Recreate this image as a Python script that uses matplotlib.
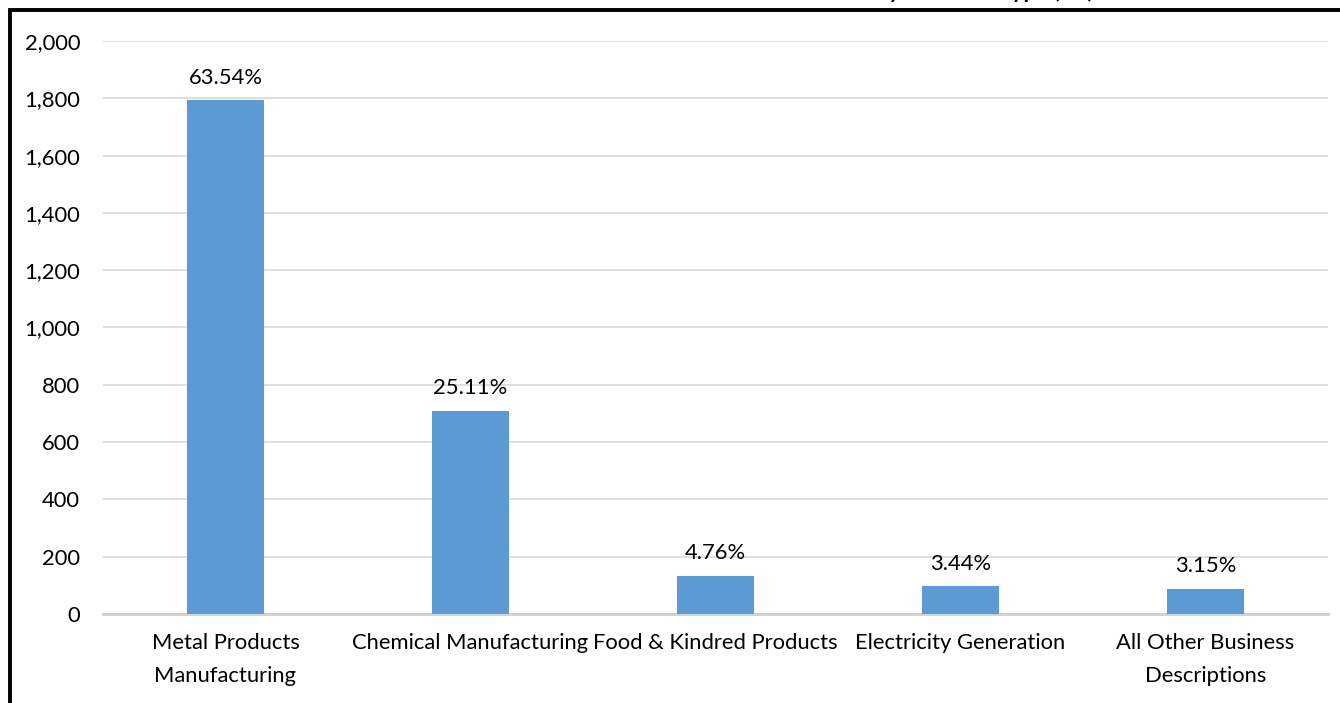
import matplotlib
matplotlib.use('Agg')
import matplotlib.pyplot as plt
from matplotlib.patches import Rectangle
from matplotlib.ticker import FuncFormatter

categories = ['Metal Products\nManufacturing', 'Chemical Manufacturing', 'Food & Kindred Products',
              'Electricity Generation', 'All Other Business\nDescriptions']
values = [1793, 709, 134, 97, 89]
pct_labels = ['63.54%', '25.11%', '4.76%', '3.44%', '3.15%']
title = 'Total Releases of TRI Chemicals by Business Type (lbs)'

plt.rcParams['font.family'] = ['Lato', 'DejaVu Sans']

W, H = 1340, 703
fig = plt.figure(figsize=(W / 100, H / 100), dpi=100, facecolor='white')
ax = fig.add_axes([103 / W, 1 - 614 / H, 1225 / W, 573 / H])

x = list(range(len(categories)))
bars = ax.bar(x, values, width=0.318, color='#5b9bd5', zorder=3)

for b, lab in zip(bars, pct_labels):
    ax.annotate(lab, (b.get_x() + b.get_width() / 2, b.get_height()),
                xytext=(0, 12), textcoords='offset points',
                ha='center', va='baseline', fontsize=15.8, color='#000000')

ax.set_xlim(-0.5, 4.5)
ax.set_ylim(0, 2000)
ax.set_yticks(range(0, 2001, 200))
ax.yaxis.set_major_formatter(FuncFormatter(lambda v, p: f'{int(v):,}'))
ax.set_xticks(x)
ax.set_xticklabels(categories, linespacing=1.8)
ax.tick_params(axis='both', length=0, labelsize=15.8, colors='#000000')
ax.tick_params(axis='y', pad=16.5)
ax.tick_params(axis='x', pad=14)

ax.grid(axis='y', color='#d9d9d9', linewidth=1.2, zorder=0)
for s in ['top', 'right', 'left']:
    ax.spines[s].set_visible(False)
ax.spines['bottom'].set_color('#d0d0d0')
ax.spines['bottom'].set_linewidth(2)

# outer frame (cropped on the right and bottom)
fig.patches.append(Rectangle((9.5 / W, -0.05), 1.1, 1 - 9.5 / H + 0.05,
                             transform=fig.transFigure, fill=False,
                             edgecolor='black', linewidth=2.8, zorder=5))

# title mostly cut off above the top edge, as in the source
fig.text(1094 / W, 1 + 2 / H, title, ha='right', va='baseline',
         fontsize=16, fontweight='bold', color='black')

fig.savefig('out.png', dpi=100, facecolor='white')
